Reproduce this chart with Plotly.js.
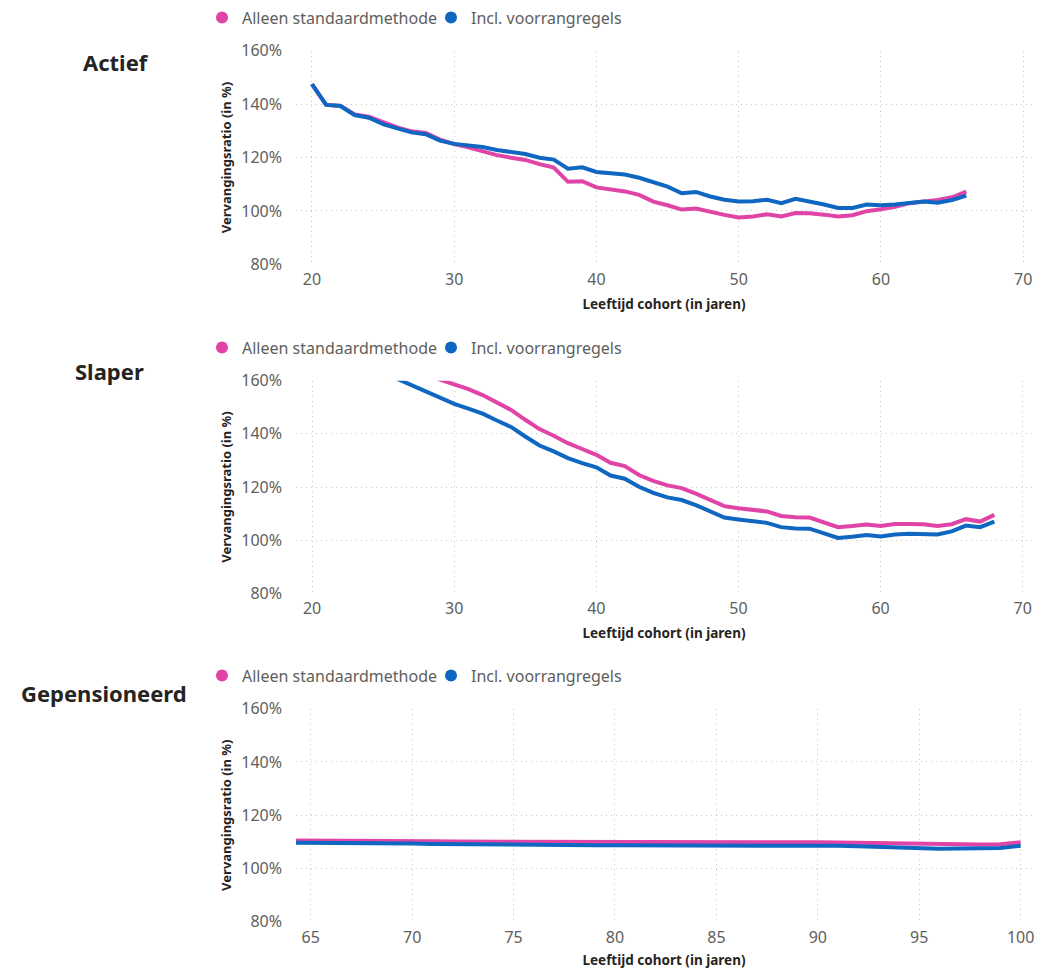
<!DOCTYPE html>
<html>
<head>
<meta charset="utf-8">
<script src="https://cdn.plot.ly/plotly-3.0.1.min.js"></script>
<style>
html,body{margin:0;padding:0;background:#fff;}
#chart{width:1037px;height:969px;}
</style>
</head>
<body>
<div id="chart"></div>
<script>
// ---------- DATA ----------
var seriesNames = ["Alleen standaardmethode", "Incl. voorrangregels"];
var panelTitles = ["Actief", "Slaper", "Gepensioneerd"];
var xTitle = "Leeftijd cohort (in jaren)";
var yTitle = "Vervangingsratio (in %)";

var actiefAge = [20,21,22,23,24,25,26,27,28,29,30,31,32,33,34,35,36,37,38,39,40,41,42,43,44,45,46,47,48,49,50,51,52,53,54,55,56,57,58,59,60,61,62,63,64,65,66];
var actiefStd = [147.5,139.7,139.4,136.1,135.3,133.2,131.3,129.8,129.2,126.7,125.0,123.8,122.4,120.9,119.9,119.1,117.5,116.2,110.9,111.1,108.8,108.0,107.3,106.0,103.5,102.1,100.5,100.9,99.6,98.5,97.5,97.9,98.7,97.9,99.2,99.1,98.6,97.9,98.4,99.9,100.6,101.5,102.9,103.5,104.1,105.1,107.2];
var actiefIncl = [147.5,139.7,139.3,135.9,134.9,132.5,130.9,129.4,128.7,126.3,125.1,124.6,123.9,122.8,122.2,121.3,119.9,119.2,115.8,116.3,114.6,114.2,113.6,112.4,110.8,109.1,106.6,107.1,105.4,104.2,103.5,103.6,104.2,102.9,104.5,103.5,102.4,101.1,101.1,102.4,102.1,102.4,103.1,103.5,103.1,104.1,105.7];

var slaperAge = [20,21,22,23,24,25,26,27,28,29,30,31,32,33,34,35,36,37,38,39,40,41,42,43,44,45,46,47,48,49,50,51,52,53,54,55,56,57,58,59,60,61,62,63,64,65,66,67,68];
var slaperStd = [185,182,179,176,173,170.5,168,165.5,163,160.4,158.6,156.8,154.6,151.8,149.0,145.3,141.8,139.3,136.5,134.3,132.1,129.1,127.9,124.5,122.3,120.6,119.6,117.5,115.0,112.8,112.0,111.4,110.8,109.1,108.6,108.5,106.8,104.9,105.3,105.9,105.3,106.1,106.1,106.0,105.3,106.0,107.9,107.0,109.5];
var slaperIncl = [177,174,171,168,165.5,163,160.6,158.2,156.0,153.6,151.3,149.5,147.6,145.0,142.6,139.0,135.6,133.4,130.9,129.0,127.4,124.3,123.1,120.1,117.8,116.1,115.1,113.2,110.8,108.5,107.8,107.3,106.5,104.9,104.4,104.3,102.4,100.8,101.3,101.9,101.4,102.1,102.4,102.4,102.1,103.3,105.5,104.9,107.0];

var pensAge = [64,65,66,67,68,69,70,71,72,73,74,75,76,77,78,79,80,81,82,83,84,85,86,87,88,89,90,91,92,93,94,95,96,97,98,99,100];
var pensStd = [110.5,110.5,110.5,110.5,110.5,110.4,110.3,110.2,110.1,110.1,110.0,110.0,109.9,109.9,109.8,109.8,109.8,109.8,109.8,109.8,109.8,109.8,109.8,109.8,109.8,109.8,109.8,109.7,109.6,109.4,109.2,109.0,108.9,108.9,109.0,109.1,109.8];
var pensIncl = [109.7,109.7,109.6,109.6,109.6,109.5,109.4,109.2,109.1,109.0,108.9,108.9,108.8,108.8,108.7,108.7,108.7,108.7,108.7,108.7,108.7,108.7,108.8,108.8,108.8,108.8,108.7,108.5,108.3,108.1,107.8,107.5,107.4,107.5,107.6,107.7,108.5];

var yTicks = [80,100,120,140,160];
var yTickText = ["80%","100%","120%","140%","160%"];
var xTicksWork = [20,30,40,50,60,70];
var xTicksPens = [65,70,75,80,85,90,95,100];

// ---------- STYLE ----------
var W = 1037, H = 969;
var PINK = "#E044A7", BLUE = "#0F67C1";
var FONT = "'Segoe UI', 'Noto Sans', 'Open Sans', sans-serif";
var GREY = "#605E5C", DARK = "#252423", GRID = "#c4c4c4";

function px2x(p){ return p / W; }
function px2y(p){ return 1 - p / H; }

var panels = [
  {age: actiefAge, std: actiefStd, incl: actiefIncl, top: 50.7, bot: 264.3, xr: [18.88, 70.62], xt: xTicksWork},
  {age: slaperAge, std: slaperStd, incl: slaperIncl, top: 380.7, bot: 593.3, xr: [18.87, 70.65], xt: xTicksWork},
  {age: pensAge, std: pensStd, incl: pensIncl, top: 708.7, bot: 921.7, xr: [64.275, 100.56], xt: xTicksPens}
];

var traces = [];
var layout = {
  width: W, height: H,
  margin: {l: 0, r: 0, t: 0, b: 0},
  paper_bgcolor: "#fff", plot_bgcolor: "#fff",
  font: {family: FONT, color: GREY, size: 16},
  annotations: [],
  showlegend: true
};
var titleY = [62, 371, 693];
var titleX = [116, 109, 104];

panels.forEach(function(p, i){
  var n = i + 1;
  var xa = "xaxis" + (n === 1 ? "" : n), ya = "yaxis" + (n === 1 ? "" : n);
  var xr = "x" + (n === 1 ? "" : n), yr = "y" + (n === 1 ? "" : n);
  var lg = "legend" + (n === 1 ? "" : n);
  traces.push({x: p.age, y: p.std, xaxis: xr, yaxis: yr, mode: "lines", name: seriesNames[0],
    line: {color: PINK, width: 4}, showlegend: false, hoverinfo: "skip"});
  traces.push({x: p.age, y: p.incl, xaxis: xr, yaxis: yr, mode: "lines", name: seriesNames[1],
    line: {color: BLUE, width: 4}, showlegend: false, hoverinfo: "skip"});
  // legend entries (dot symbols)
  traces.push({x: [null], y: [null], xaxis: xr, yaxis: yr, mode: "markers", name: seriesNames[0],
    marker: {color: PINK, size: 13, symbol: "circle"}, legend: lg, showlegend: true});
  traces.push({x: [null], y: [null], xaxis: xr, yaxis: yr, mode: "markers", name: seriesNames[1],
    marker: {color: BLUE, size: 13, symbol: "circle"}, legend: lg, showlegend: true});

  layout[xa] = {
    domain: [px2x(296), px2x(1032)], range: p.xr, anchor: yr,
    tickvals: p.xt, ticks: "", showline: false, zeroline: false,
    showgrid: true, gridcolor: GRID, griddash: "1px,4px", gridwidth: 1,
    tickfont: {family: FONT, color: GREY, size: 16},
    ticklabelstandoff: 4,
    title: {text: xTitle, font: {family: FONT, color: DARK, size: 13.5, weight: 700}, standoff: 10},
    automargin: false, fixedrange: true
  };
  layout[ya] = {
    domain: [px2y(p.bot), px2y(p.top)], range: [80, 160], anchor: xr,
    tickvals: yTicks, ticktext: yTickText, ticks: "", showline: false, zeroline: false,
    showgrid: true, gridcolor: GRID, griddash: "1px,4px", gridwidth: 1,
    tickfont: {family: FONT, color: GREY, size: 16},
    ticklabelstandoff: 13,
    title: {text: yTitle, font: {family: FONT, color: DARK, size: 13, weight: 700}, standoff: 6},
    automargin: false, fixedrange: true
  };
  layout[lg] = {
    orientation: "h", x: px2x(202), xanchor: "left",
    y: px2y(p.top - 50), yanchor: "top",
    font: {family: FONT, color: GREY, size: 16},
    itemsizing: "constant", bgcolor: "rgba(0,0,0,0)", tracegroupgap: 0, itemclick: false,
    entrywidth: 184
  };
  layout.annotations.push({
    text: "<b>" + panelTitles[i] + "</b>", xref: "paper", yref: "paper",
    x: px2x(titleX[i]), y: px2y(titleY[i]), xanchor: "center", yanchor: "middle",
    showarrow: false, font: {family: FONT, color: DARK, size: 22}
  });
});

Plotly.newPlot("chart", traces, layout, {displayModeBar: false, staticPlot: true});
</script>
</body>
</html>
